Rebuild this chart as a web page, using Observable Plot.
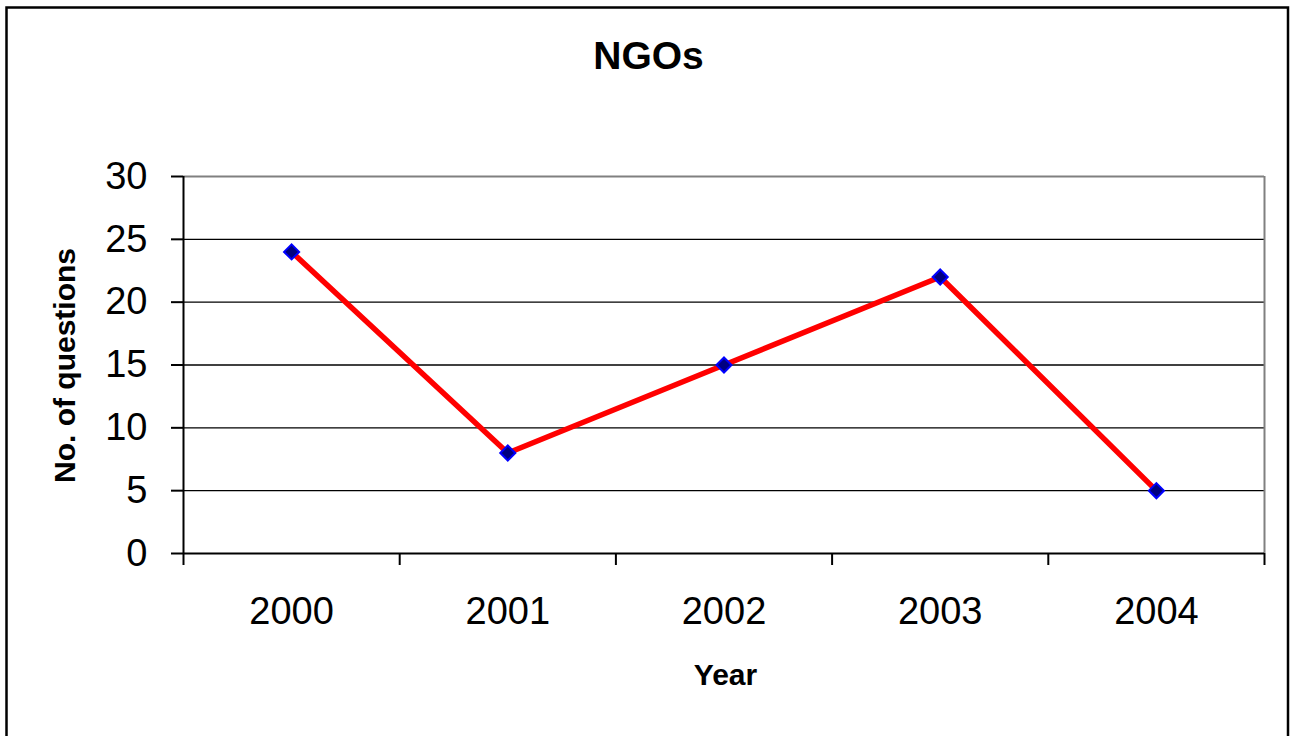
<!DOCTYPE html>
<html>
<head>
<meta charset="utf-8">
<script src="https://cdn.jsdelivr.net/npm/d3@7"></script>
<script src="https://cdn.jsdelivr.net/npm/@observablehq/plot@0.6"></script>
<style>
  html, body { margin: 0; padding: 0; background: #fff; overflow: hidden; }
  #chart { width: 1293px; height: 736px; }
</style>
</head>
<body>
<div id="chart"></div>
<script>
const years = [2000, 2001, 2002, 2003, 2004];
const questions = [24, 8, 15, 22, 5];
const yTicks = [0, 5, 10, 15, 20, 25, 30];
const gridValues = [5, 10, 15, 20, 25];
const bandEdges = [1999.5, 2000.5, 2001.5, 2002.5, 2003.5, 2004.5];
const titleText = "NGOs";
const xLabel = "Year";
const yLabel = "No. of questions";

const data = years.map((year, i) => ({year, value: questions[i]}));
const font = "'Liberation Sans', Arial, sans-serif";

const chart = Plot.plot({
  width: 1293,
  height: 736,
  marginLeft: 183,
  marginRight: 29,
  marginTop: 176,
  marginBottom: 183,
  style: {fontFamily: font, color: "black", background: "white", overflow: "visible"},
  x: {type: "linear", domain: [bandEdges[0], bandEdges[bandEdges.length - 1]]},
  y: {domain: [0, 30]},
  marks: [
    Plot.gridY(gridValues, {stroke: "black", strokeOpacity: 1, strokeWidth: 1.4}),
    Plot.ruleY([30], {x1: bandEdges[0], x2: bandEdges[5], stroke: "#808080", strokeWidth: 2}),
    Plot.ruleX([bandEdges[5]], {y1: 0, y2: 30, stroke: "#808080", strokeWidth: 2}),
    Plot.ruleX([bandEdges[0]], {y1: 0, y2: 30, stroke: "black", strokeWidth: 2}),
    Plot.ruleY([0], {x1: bandEdges[0], x2: bandEdges[5], stroke: "black", strokeWidth: 2}),
    Plot.axisY({ticks: yTicks, tickSize: 12, tickPadding: 24, fontSize: 38, strokeWidth: 2, label: null, tickFormat: d => String(d)}),
    Plot.axisX({ticks: bandEdges, tickSize: 12, strokeWidth: 2, tickFormat: () => "", label: null}),
    Plot.axisX({ticks: years, tickSize: 0, tickPadding: 44, fontSize: 38, tickFormat: d => String(d), label: null}),
    Plot.line(data, {x: "year", y: "value", stroke: "#ff0000", strokeWidth: 5.5}),
    Plot.dot(data, {x: "year", y: "value", symbol: "diamond2", r: 6.8, fill: "#000080", stroke: "#0000ff", strokeWidth: 2}),
    Plot.text([titleText], {frameAnchor: "top", lineAnchor: "middle", textAnchor: "middle", dx: -75.5, dy: -120, fontSize: 39, fontWeight: "bold", fill: "black"}),
    Plot.text([xLabel], {frameAnchor: "bottom", lineAnchor: "middle", textAnchor: "middle", dx: 1.5, dy: 122, fontSize: 30, fontWeight: "bold", fill: "black"}),
    Plot.text([yLabel], {frameAnchor: "left", lineAnchor: "middle", textAnchor: "middle", dx: -118, dy: 0.5, rotate: -90, fontSize: 30, fontWeight: "bold", fill: "black"})
  ]
});

d3.select(chart).append("rect")
  .attr("x", 6.5).attr("y", 7.5)
  .attr("width", 1281.5).attr("height", 800)
  .attr("fill", "none").attr("stroke", "black").attr("stroke-width", 2.5);

document.getElementById("chart").appendChild(chart);
</script>
</body>
</html>
